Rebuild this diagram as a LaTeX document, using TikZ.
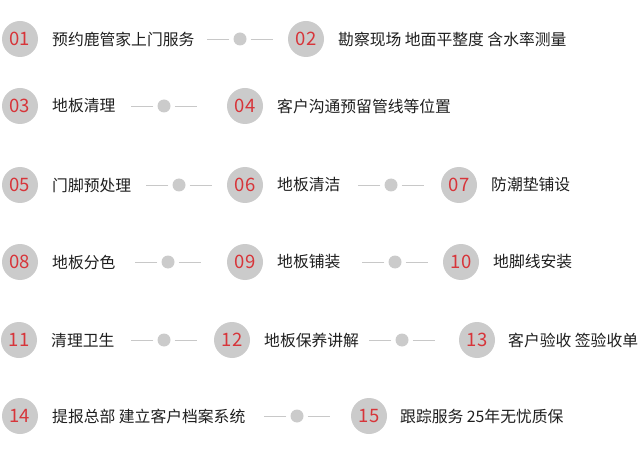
\documentclass[tikz,border=0pt]{standalone}
\usepackage{fontspec}
\setmainfont{Noto Sans CJK SC}
\usetikzlibrary{positioning}
\definecolor{numgray}{HTML}{CBCBCB}
\definecolor{numred}{HTML}{D7353A}
\definecolor{txtgray}{HTML}{1E1E1E}
\definecolor{linegray}{HTML}{C8C8C8}
\tikzset{
  num/.style={circle,fill=numgray,minimum size=36pt,inner sep=0pt,text=numred,font=\fontsize{18.5}{20}\selectfont},
  lbl/.style={anchor=west,inner sep=0pt,text=txtgray,font=\fontsize{15.8}{18}\selectfont},
  midot/.style={circle,fill=numgray,minimum size=13pt,inner sep=0pt},
  link/.style={draw=linegray,line width=0.7pt}
}
% a dot with a short line on each side
\newcommand\linkdot[3]{\node[midot] (#1) at (#2,#3) {};
  \draw[link] ([xshift=-4pt]#1.west) -- ++(-22,0); \draw[link] ([xshift=4pt]#1.east) -- ++(22,0);}
\begin{document}
\begin{tikzpicture}[x=1pt,y=-1pt]
\useasboundingbox (0,0) rectangle (639,462);
% row 1
\node[num] (n01) at (20,39) {01}; \node[lbl] (t01) at (52,39) {预约鹿管家上门服务};
\linkdot{d01}{240}{39}
\node[num] (n02) at (306,39) {02}; \node[lbl] (t02) at (338,39) {勘察现场 地面平整度 含水率测量};
% row 2
\node[num] (n03) at (20,106) {03}; \node[lbl] (t03) at (52,106) {地板清理};
\linkdot{d03}{164}{106}
\node[num] (n04) at (245,106) {04}; \node[lbl] (t04) at (277,106) {客户沟通预留管线等位置};
% row 3
\node[num] (n05) at (20,185) {05}; \node[lbl] (t05) at (52,185) {门脚预处理};
\linkdot{d05}{179}{185}
\node[num] (n06) at (245,185) {06}; \node[lbl] (t06) at (277,185) {地板清洁};
\linkdot{d06}{391}{185}
\node[num] (n07) at (459,185) {07}; \node[lbl] (t07) at (491,185) {防潮垫铺设};
% row 4
\node[num] (n08) at (20,262) {08}; \node[lbl] (t08) at (52,262) {地板分色};
\linkdot{d08}{168}{262}
\node[num] (n09) at (245,262) {09}; \node[lbl] (t09) at (277,262) {地板铺装};
\linkdot{d09}{395}{262}
\node[num] (n10) at (461,262) {10}; \node[lbl] (t10) at (493,262) {地脚线安装};
% row 5
\node[num] (n11) at (19,340) {11}; \node[lbl] (t11) at (51,340) {清理卫生};
\linkdot{d11}{164}{340}
\node[num] (n12) at (232,340) {12}; \node[lbl] (t12) at (264,340) {地板保养讲解};
\linkdot{d12}{402}{340}
\node[num] (n13) at (477,340) {13}; \node[lbl] (t13) at (508,340) {客户验收 签验收单};
% row 6
\node[num] (n14) at (20,416) {14}; \node[lbl] (t14) at (52,416) {提报总部 建立客户档案系统};
\linkdot{d14}{297}{416}
\node[num] (n15) at (369,416) {15}; \node[lbl] (t15) at (400,416) {跟踪服务 25年无忧质保};
\end{tikzpicture}
\end{document}
